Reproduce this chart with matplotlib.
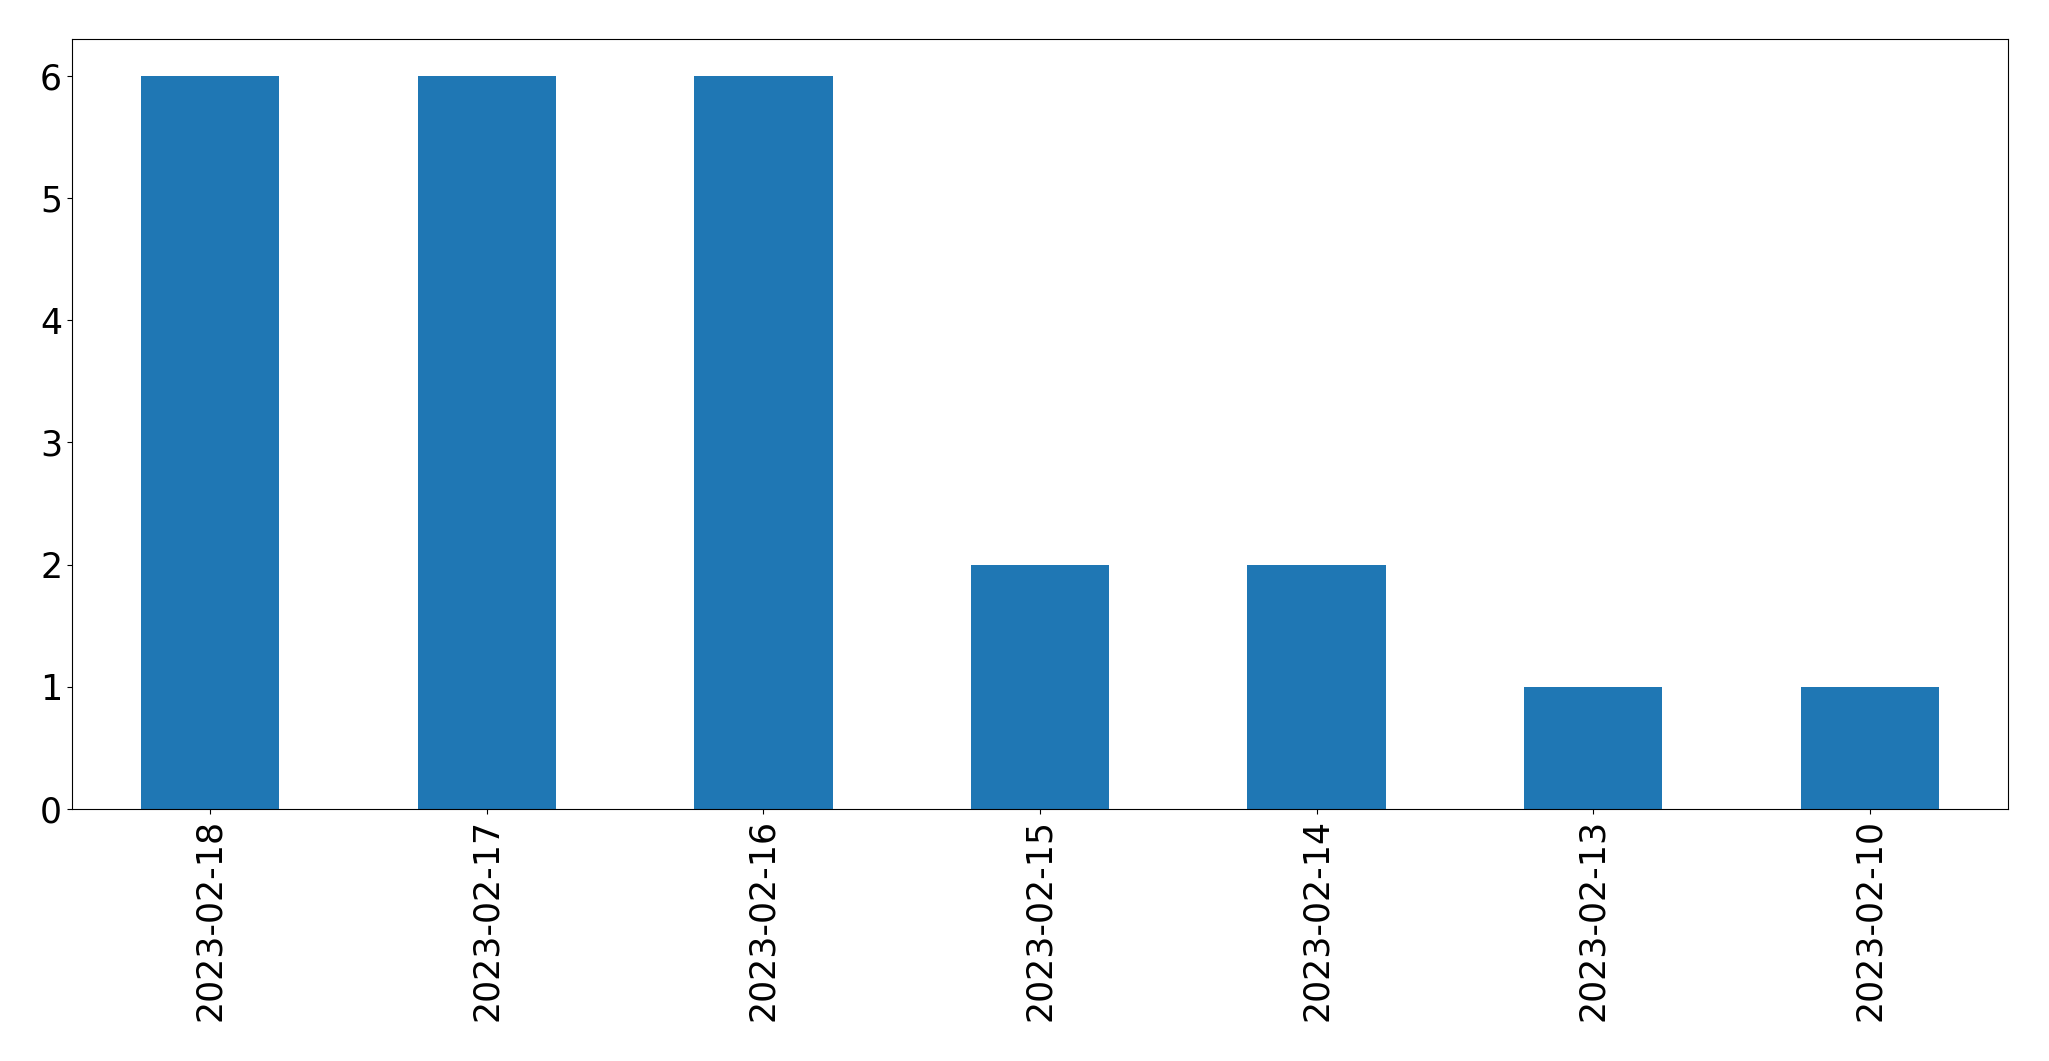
import matplotlib
matplotlib.use("Agg")
from matplotlib import pyplot as plt

datas = ["2023-02-18", "2023-02-17", "2023-02-16", "2023-02-15",
         "2023-02-14", "2023-02-13", "2023-02-10"]
contagens = [6, 6, 6, 2, 2, 1, 1]

fig = plt.figure(figsize=(20.49, 10.61), dpi=100)
ax = fig.add_axes([0.0351, 0.2375, 0.9449, 0.7257])

posicoes = list(range(len(datas)))
ax.bar(posicoes, contagens, width=0.5, color="#1f77b4")
ax.set_xlim(-0.5, len(datas) - 0.5)
ax.set_ylim(0, max(contagens) * 1.05)
ax.set_xticks(posicoes)
ax.set_xticklabels(datas, rotation=90)
ax.tick_params(axis="both", labelsize=25)

fig.savefig("out.png", dpi=100)
